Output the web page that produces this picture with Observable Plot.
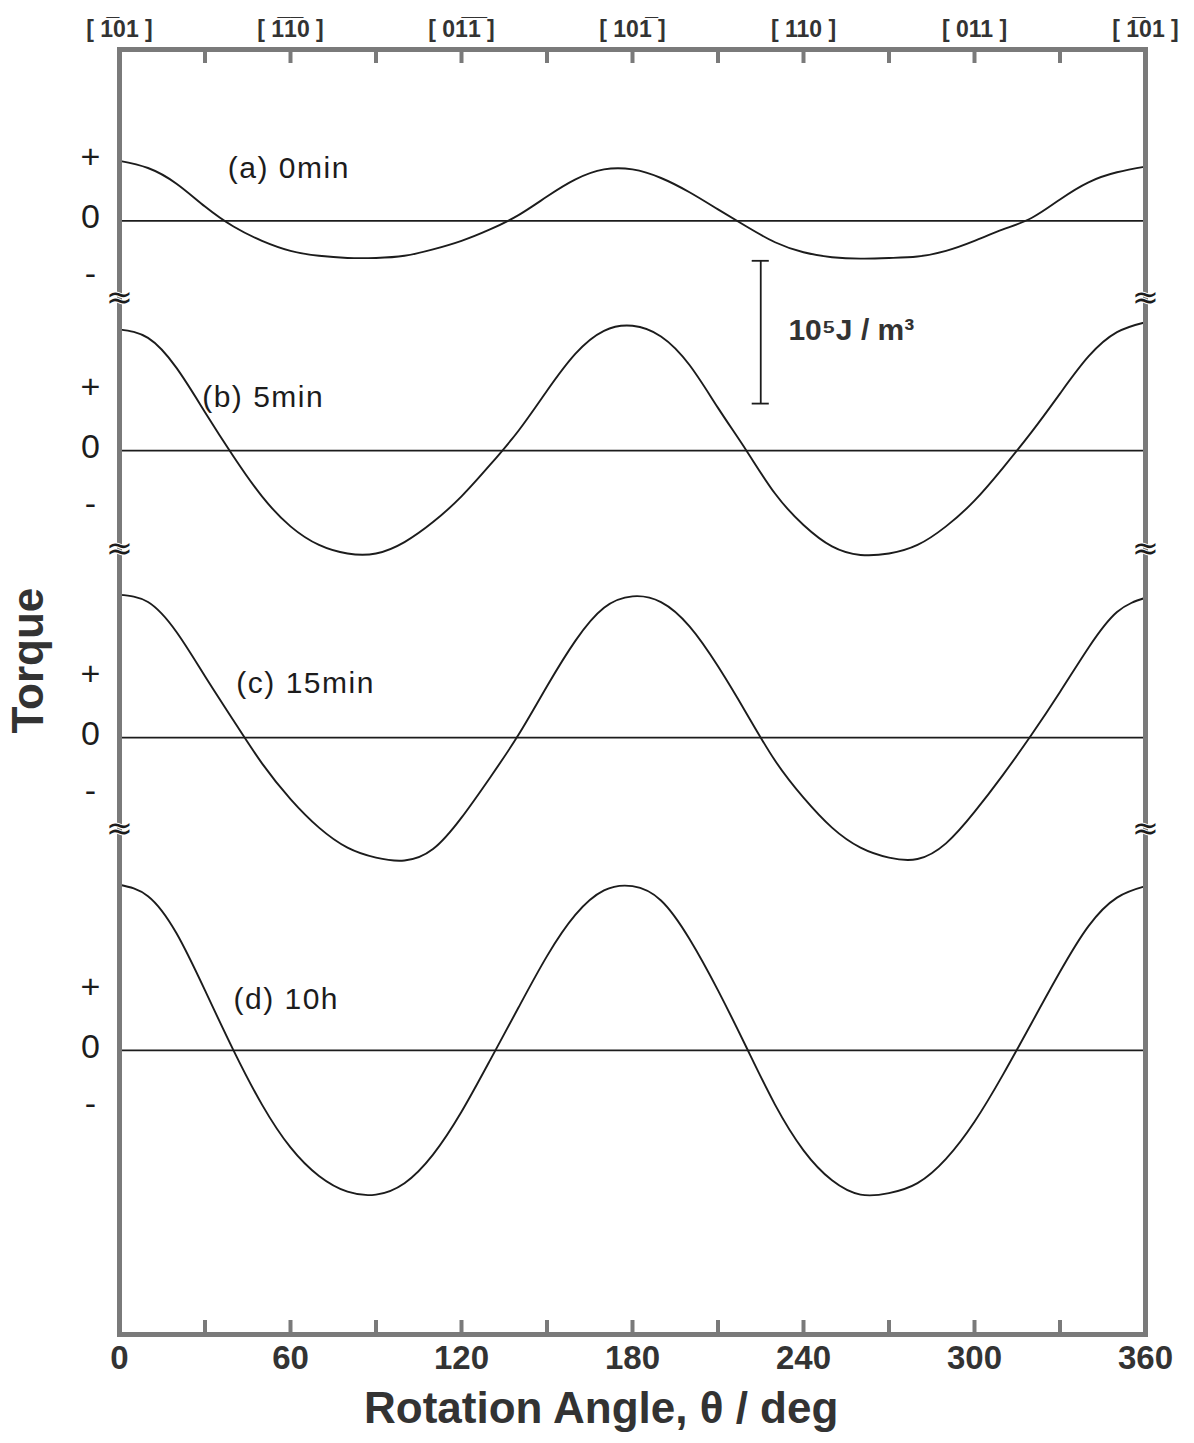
<!DOCTYPE html>
<html><head><meta charset="utf-8">
<script src="https://cdn.jsdelivr.net/npm/d3@7"></script>
<script src="https://cdn.jsdelivr.net/npm/@observablehq/plot@0.6"></script>
<style>
body{margin:0;background:#fff;}
.spaced text{letter-spacing:1.5px;}
</style></head><body><div id="chart"></div>
<script>
// Rotation angle (deg)
const theta = [0,10,20,30,40,50,60,70,80,90,100,110,120,130,140,150,160,170,180,190,200,210,220,230,240,250,260,270,280,290,300,310,320,330,340,350,360];
// Torque, in units of 10^5 J/m^3, relative to each panel's zero line
const torqueA = [0.42,0.37,0.26,0.10,-0.04,-0.14,-0.21,-0.245,-0.26,-0.26,-0.245,-0.20,-0.14,-0.06,0.04,0.17,0.29,0.36,0.36,0.30,0.20,0.08,-0.04,-0.15,-0.22,-0.255,-0.265,-0.26,-0.25,-0.21,-0.14,-0.06,0.02,0.15,0.27,0.34,0.38];
const torqueB = [0.85,0.79,0.58,0.27,-0.04,-0.32,-0.53,-0.66,-0.72,-0.72,-0.64,-0.50,-0.32,-0.10,0.14,0.42,0.68,0.84,0.875,0.80,0.60,0.30,0.00,-0.30,-0.52,-0.67,-0.73,-0.72,-0.66,-0.53,-0.35,-0.12,0.13,0.40,0.66,0.83,0.90];
const torqueC = [1.00,0.95,0.74,0.43,0.12,-0.18,-0.43,-0.63,-0.77,-0.84,-0.86,-0.78,-0.56,-0.28,0.02,0.36,0.68,0.91,0.99,0.95,0.78,0.50,0.17,-0.16,-0.42,-0.63,-0.77,-0.84,-0.85,-0.74,-0.52,-0.26,0.02,0.32,0.63,0.88,0.98];
const torqueD = [1.16,1.08,0.82,0.42,0.00,-0.38,-0.68,-0.88,-0.99,-1.01,-0.93,-0.73,-0.43,-0.07,0.30,0.66,0.95,1.12,1.15,1.05,0.78,0.42,0.02,-0.38,-0.70,-0.91,-1.01,-1.00,-0.93,-0.76,-0.50,-0.17,0.19,0.55,0.87,1.07,1.15];

const panelNames = ["(a) 0min","(b) 5min","(c) 15min","(d) 10h"];
const panelZero = [7.80, 6.19, 4.18, 1.99];      // zero line of each panel (stacked offset)
const panelLabelTheta = [38, 29, 41, 40];
const panelLabelY = [8.17, 6.56, 4.56, 2.35];
const signLabels = ["+","0","-"];
const signOffsets = [0.445, 0.025, -0.375];

const bottomTicks = [0,60,120,180,240,300,360];
const minorTicks = [30,60,90,120,150,180,210,240,270,300,330];
const topLabels = ["[ 1\u030501 ]","[ 1\u03051\u03050 ]","[ 01\u03051\u0305 ]","[ 101\u0305 ]","[ 110 ]","[ 011 ]","[ 1\u030501 ]"];
const breakY = [7.26, 5.50, 3.54];

const scaleTheta = 225, scaleLow = 6.52, scaleHigh = 7.52;
const scaleText = "10\u2075J / m\u00B3";
const xTitle = "Rotation Angle, \u03B8 / deg";
const yTitle = "Torque";

const series = [torqueA, torqueB, torqueC, torqueD];
const rows = [];
series.forEach((s, i) => theta.forEach((t, j) => rows.push({panel: i, theta: t, v: panelZero[i] + s[j]})));
const signRows = [];
panelZero.forEach(z => signLabels.forEach((s, k) => signRows.push({text: s, v: z + signOffsets[k]})));
const breakRows = breakY.flatMap(y => [{x: 0, y}, {x: 360, y}]);

const W = 1194, H = 1443, mL = 119, mR = 49, mT = 49, mB = 109;
const plotH = H - mT - mB;
const tickLen = 14;
const gray = "#7a7a7a";
const ink = "#1c1c1c";

const chart = Plot.plot({
  width: W, height: H,
  marginLeft: mL, marginRight: mR, marginTop: mT, marginBottom: mB,
  style: {fontFamily: "'Liberation Sans', Arial, sans-serif", color: ink, background: "#fff"},
  x: {domain: [0, 360]},
  y: {domain: [0, 9], axis: null},
  marks: [
    Plot.ruleY(panelZero, {stroke: ink, strokeWidth: 1.7}),
    Plot.line(rows, {x: "theta", y: "v", z: "panel", curve: "natural", stroke: ink, strokeWidth: 1.9}),
    Plot.frame({stroke: gray, strokeWidth: 5}),
    Plot.ruleX(minorTicks, {stroke: gray, strokeWidth: 4, insetTop: plotH - tickLen}),
    Plot.ruleX(minorTicks, {stroke: gray, strokeWidth: 4, insetBottom: plotH - tickLen}),
    Plot.text(breakRows, {x: "x", y: "y", text: () => "\u2248", fontSize: 32, fontFamily: "DejaVu Sans", fill: ink, stroke: "white", strokeWidth: 2}),
    Plot.text(signRows, {x: () => 0, y: "v", text: "text", dx: -29, fontSize: 34, fill: ink}),
    Plot.text(panelNames, {x: (d, i) => panelLabelTheta[i], y: (d, i) => panelLabelY[i], text: d => d, textAnchor: "start", fontSize: 30, fill: ink, className: "spaced"}),
    Plot.ruleX([scaleTheta], {y1: scaleLow, y2: scaleHigh, stroke: ink, strokeWidth: 1.8}),
    Plot.ruleY([scaleLow, scaleHigh], {x1: scaleTheta - 3, x2: scaleTheta + 3, stroke: ink, strokeWidth: 1.8}),
    Plot.text([scaleText], {x: scaleTheta + 9.7, y: (scaleLow + scaleHigh) / 2 + 0.01, text: d => d, textAnchor: "start", fontSize: 30, fontWeight: "bold", fill: "#333"}),
    Plot.axisX({anchor: "bottom", ticks: bottomTicks, tickSize: 0, tickPadding: 11, fontSize: 33, fontWeight: "bold", fill: "#333", label: null}),
    Plot.axisX({anchor: "top", ticks: bottomTicks, tickFormat: d => topLabels[bottomTicks.indexOf(d)], tickSize: 0, tickPadding: 13, fontSize: 23, fontWeight: "bold", fill: "#333", label: null}),
    Plot.text([xTitle], {x: () => 169, y: () => 0, text: d => d, dy: 74, fontSize: 44, fontWeight: "bold", fill: "#333"}),
    Plot.text([yTitle], {x: () => 0, y: () => 4.72, text: d => d, dx: -91, rotate: -90, fontSize: 44, fontWeight: "bold", fill: "#333"})
  ]
});
document.getElementById("chart").appendChild(chart);
</script>
</body></html>
